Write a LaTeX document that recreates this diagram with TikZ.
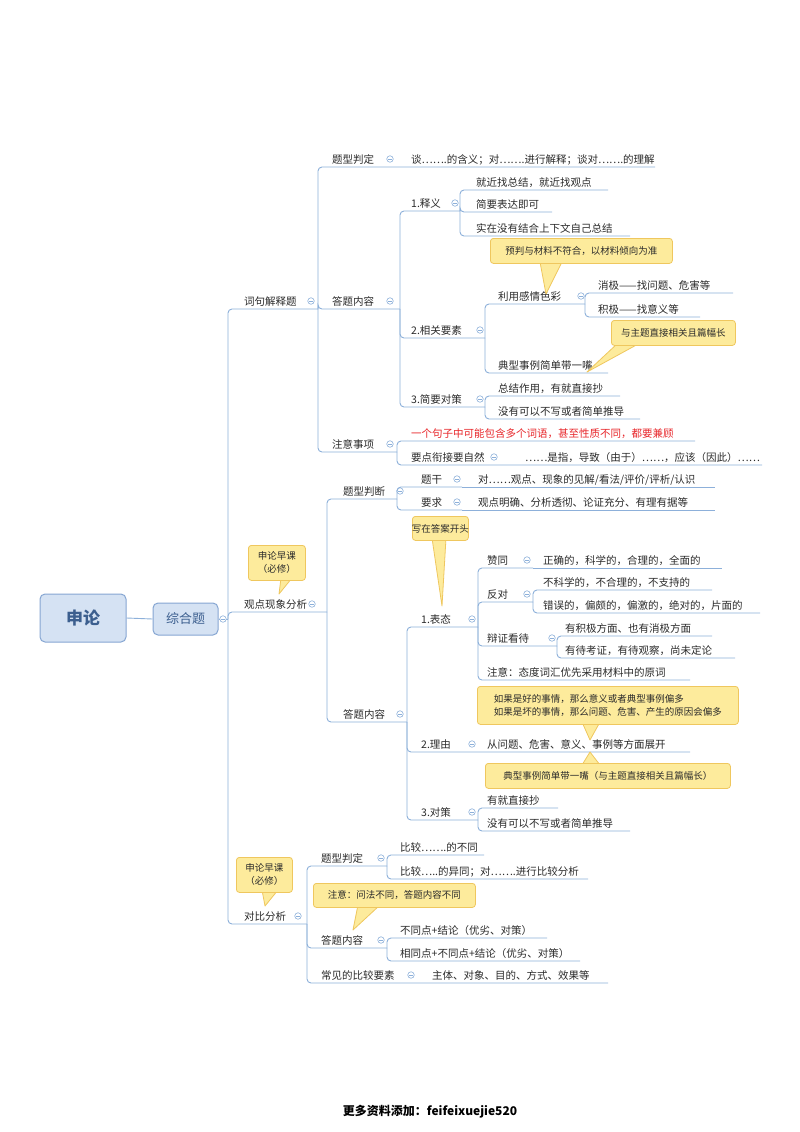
\documentclass[tikz,border=0pt]{standalone}
\usepackage{fontspec}
\setmainfont{Noto Sans CJK SC}
\begin{document}
\begin{tikzpicture}[x=1pt,y=-1pt,
  ln/.style={draw=lnc,line width=0.9pt,rounded corners=4pt},
  txt/.style={inner sep=0pt,font=\fontsize{10.5}{12}\selectfont,text=txc},
  col/.style={circle,draw=lnc,line width=0.6pt,minimum size=6.5pt,inner sep=0pt,fill=white,path picture={\draw[lnc,line width=0.5pt] ([xshift=-1.6pt]path picture bounding box.center)--([xshift=1.6pt]path picture bounding box.center);}},
  call/.style={draw=cbd,fill=cfl,rounded corners=3pt,line width=0.8pt,inner sep=0pt,font=\fontsize{9.5}{13}\selectfont,text=txc,align=left},
  ptr/.style={draw=cbd,fill=cfl,line width=0.8pt,line join=round},
  bx/.style={draw=rbd,fill=rfl,rounded corners=5pt,line width=1pt,text=rtx,inner sep=0pt}]
\definecolor{lnc}{HTML}{8DB0DA}
\definecolor{txc}{HTML}{2B2B2B}
\definecolor{cbd}{HTML}{EFC75E}
\definecolor{cfl}{HTML}{FDEB9C}
\definecolor{rbd}{HTML}{86A6D2}
\definecolor{rfl}{HTML}{D5E2F3}
\definecolor{rtx}{HTML}{3C5F8F}
\definecolor{red}{HTML}{E8262A}
\useasboundingbox (0,0) rectangle (800,1132);
\fill[white] (0,0) rectangle (800,1132);
% #1 name #2 vx #3 py #4 cy #5 endx #6 textx #7 text
\newcommand\br[7]{\node[txt,anchor=base west] (#1) at (#6,#4-3.5) {#7};\draw[ln] (#2,#3) |- (#5,#4);}
\newcommand\cl[2]{\node[col] at (#1,#2-8) {};}

% root
\node[bx,minimum width=86pt,minimum height=48pt,font=\fontsize{17}{20}\selectfont\bfseries] (sl) at (83,618) {申论};
\node[bx,minimum width=65pt,minimum height=32pt,font=\fontsize{13}{15}\selectfont] (zh) at (185.5,619) {综合题};
\draw[ln] (sl.east) -- (zh.west);
\draw[ln] (zh.east) -- (228,619);
\node[col] at (223,619) {};

% ===== 词句解释题 =====
\br{a}{228}{619}{309}{318}{244}{词句解释题}\cl{311}{309}
\br{a1}{318}{309}{167}{655}{332}{题型判定}\cl{390}{167}
\node[txt,anchor=base west] (a1c) at (411,163.5) {谈…….的含义；对…….进行解释；谈对…….的理解};
\br{a2}{318}{309}{309}{400}{332}{答题内容}\cl{390}{309}
\br{a21}{400}{309}{211}{460}{411}{1.释义}\cl{455}{211}
\br{a211}{460}{211}{190}{608}{476}{就近找总结，就近找观点}
\br{a212}{460}{211}{212}{552}{476}{简要表达即可}
\br{a213}{460}{211}{236}{630}{476}{实在没有结合上下文自己总结}
\br{a22}{400}{309}{338}{485}{411}{2.相关要素}\cl{480}{338}
\br{a221}{485}{338}{304}{585}{498}{利用感情色彩}\cl{581}{304}
\br{a2211}{585}{304}{293}{733}{598}{消极——找问题、危害等}
\br{a2212}{585}{304}{317}{700}{598}{积极——找意义等}
\br{a222}{485}{338}{373}{608}{498}{典型事例简单带一嘴}
\br{a23}{400}{309}{407}{485}{411}{3.简要对策}\cl{480}{407}
\br{a231}{485}{407}{396}{620}{498}{总结作用，有就直接抄}
\br{a232}{485}{407}{419}{640}{498}{没有可以不写或者简单推导}
\br{a3}{318}{309}{452}{397}{332}{注意事项}\cl{390}{452}
\br{a31}{397}{452}{441}{695}{411}{\color{red}一个句子中可能包含多个词语，甚至性质不同，都要兼顾}
\br{a32}{397}{452}{465}{762}{411}{要点衔接要自然}\cl{494}{465}
\node[txt,anchor=base west] (a32c) at (525,461.5) {……是指，导致（由于）……，应该（因此）……};

% callouts top
\fill[ptr] (540,262) -- (546,294) -- (562,262) -- cycle;
\node[call,minimum width=182pt,minimum height=25pt,anchor=north west] (c1) at (490,238) {};
\node[txt,font=\fontsize{9.5}{12}\selectfont] at (c1) {预判与材料不符合，以材料倾向为准};
\fill[ptr] (618,343) -- (587,372) -- (640,343) -- cycle;
\node[call,minimum width=124pt,minimum height=25pt,anchor=north west] (c2) at (611,320) {};
\node[txt,font=\fontsize{9.5}{12}\selectfont] at (c2) {与主题直接相关且篇幅长};

% ===== 观点现象分析 =====
\br{b}{228}{619}{612}{327}{244}{观点现象分析}\cl{312}{612}
\br{b1}{327}{612}{499}{397}{343}{题型判断}\cl{400}{499}
\br{b11}{397}{499}{487}{462}{421}{题干}\cl{457}{487}
\draw[ln] (462,487) -- (715,487);
\node[txt,anchor=base west] (b11c) at (478,483.5) {对……观点、现象的见解/看法/评价/评析/认识};
\br{b12}{397}{499}{510}{462}{421}{要求}\cl{457}{510}
\draw[ln] (462,510) -- (715,510);
\node[txt,anchor=base west] (b12c) at (478,506.5) {观点明确、分析透彻、论证充分、有理有据等};
\br{b2}{327}{612}{722}{407}{343}{答题内容}\cl{400}{722}
\br{b21}{407}{722}{627}{478}{421}{1.表态}\cl{472}{627}
\br{b211}{478}{627}{568}{533}{487}{赞同}\cl{527}{568}
\draw[ln] (533,568) -- (722,568);
\node[txt,anchor=base west] (b211c) at (543,564.5) {正确的，科学的，合理的，全面的};
\br{b212}{478}{627}{602}{533}{487}{反对}\cl{527}{602}
\br{b2121}{533}{602}{590}{712}{543}{不科学的，不合理的，不支持的}
\br{b2122}{533}{602}{613}{760}{543}{错误的，偏颇的，偏激的，绝对的，片面的}
\br{b213}{478}{627}{646}{557}{487}{辩证看待}\cl{552}{646}
\br{b2131}{557}{646}{636}{712}{565}{有积极方面、也有消极方面}
\br{b2132}{557}{646}{658}{735}{565}{有待考证，有待观察，尚未定论}
\br{b214}{478}{627}{680}{690}{487}{注意：态度词汇优先采用材料中的原词}
\br{b22}{407}{722}{752}{690}{421}{2.理由}\cl{472}{752}
\node[txt,anchor=base west] (b22c) at (487,748.5) {从问题、危害、意义、事例等方面展开};
\br{b23}{407}{722}{820}{478}{421}{3.对策}\cl{472}{820}
\br{b231}{478}{820}{808}{558}{487}{有就直接抄}
\br{b232}{478}{820}{831}{630}{487}{没有可以不写或者简单推导}

% callouts middle
\fill[ptr] (281,578) -- (279,594) -- (292,578) -- cycle;
\node[call,minimum width=57pt,minimum height=35pt,anchor=north west] (c3) at (248,545) {};
\node[txt,font=\fontsize{9.5}{13}\selectfont,align=center] at (c3) {申论早课\\（必修）};
\fill[ptr] (432,538) -- (442,606) -- (446,538) -- cycle;
\node[call,minimum width=56pt,minimum height=24pt,anchor=north west] (c4) at (412,516) {};
\node[txt,font=\fontsize{9.5}{12}\selectfont] at (c4) {写在答案开头};
\fill[ptr] (582,722) -- (590,740) -- (600,722) -- cycle;
\node[call,minimum width=261pt,minimum height=38pt,anchor=north west] (c5) at (477,686) {};
\node[txt,font=\fontsize{9.5}{13}\selectfont,align=left] at (c5) {如果是好的事情，那么意义或者典型事例偏多\\如果是坏的事情，那么问题、危害、产生的原因会偏多};
\fill[ptr] (582,765) -- (590,752) -- (600,765) -- cycle;
\node[call,minimum width=245pt,minimum height=25pt,anchor=north west] (c6) at (485,763) {};
\node[txt,font=\fontsize{9.5}{12}\selectfont] at (c6) {典型事例简单带一嘴（与主题直接相关且篇幅长）};

% ===== 对比分析 =====
\br{c}{228}{619}{924}{307}{244}{对比分析}\cl{298}{924}
\br{c1t}{307}{924}{866}{387}{321}{题型判定}\cl{381}{866}
\br{c11}{387}{866}{855}{484}{400}{比较…….的不同}
\br{c12}{387}{866}{879}{588}{400}{比较…..的异同；对…….进行比较分析}
\br{c2t}{307}{924}{948}{387}{321}{答题内容}\cl{381}{948}
\br{c21}{387}{948}{938}{547}{400}{不同点+结论（优劣、对策）}
\br{c22}{387}{948}{961}{580}{400}{相同点+不同点+结论（优劣、对策）}
\br{c3t}{307}{924}{983}{608}{321}{常见的比较要素}\cl{411}{983}
\node[txt,anchor=base west] (c3c) at (432,979.5) {主体、对象、目的、方式、效果等};

% callouts bottom
\fill[ptr] (262,890) -- (265,906) -- (278,890) -- cycle;
\node[call,minimum width=56pt,minimum height=35pt,anchor=north west] (c7) at (236,857) {};
\node[txt,font=\fontsize{9.5}{13}\selectfont,align=center] at (c7) {申论早课\\（必修）};
\fill[ptr] (358,905) -- (353,930) -- (380,905) -- cycle;
\node[call,minimum width=162pt,minimum height=24pt,anchor=north west] (c8) at (313,883) {};
\node[txt,font=\fontsize{9.5}{12}\selectfont] at (c8) {注意：问法不同，答题内容不同};

% footer
\node[txt,font=\fontsize{12}{14}\selectfont\bfseries,text=black] (ft) at (430,1112) {更多资料添加：feifeixuejie520};
\end{tikzpicture}
\end{document}
